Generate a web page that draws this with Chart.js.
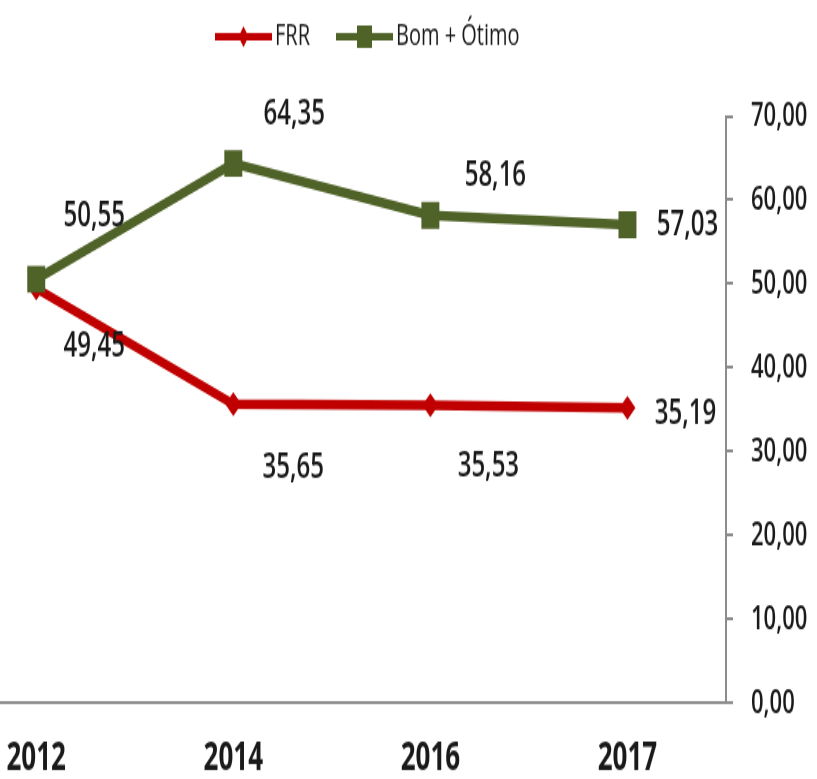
<!DOCTYPE html>
<html>
<head>
<meta charset="utf-8">
<script src="https://cdn.jsdelivr.net/npm/chart.js@4.4.1/dist/chart.umd.min.js"></script>
<style>
  html, body { margin: 0; padding: 0; background: #fff; overflow: hidden; }
  #page { position: relative; width: 817px; height: 779px; overflow: hidden; }
  /* the source picture is stretched vertically, so the chart is drawn flat and scaled */
  #wrap { position: absolute; left: -75px; top: 0; width: 892px; height: 520px;
          transform: scaleY(1.498); transform-origin: 0 0; }
</style>
</head>
<body>
<div id="page"><div id="wrap"><canvas id="myChart"></canvas></div></div>
<script>
const years = ['2012', '2014', '2016', '2017'];
const frr = [49.45, 35.65, 35.53, 35.19];
const bomOtimo = [50.55, 64.35, 58.16, 57.03];
const yTicks = [0, 10, 20, 30, 40, 50, 60, 70];

const fmt = v => Number(v).toFixed(2).replace('.', ',');
const textColor = '#1a1a1a';
const axisColor = '#8c8c8c';

// value labels next to each point (offsets are layout, in px)
const valueLabels = {
  id: 'valueLabels',
  afterDatasetsDraw(chart) {
    const ctx = chart.ctx;
    ctx.save();
    ctx.font = '600 24px "Open Sans"';
    ctx.fillStyle = textColor;
    ctx.textAlign = 'center';
    ctx.textBaseline = 'middle';
    chart.data.datasets.forEach((ds, i) => {
      chart.getDatasetMeta(i).data.forEach((pt, j) => {
        const [dx, dy] = ds.labelShift[j];
        ctx.fillText(fmt(ds.data[j]), pt.x + dx, pt.y + dy);
      });
    });
    ctx.restore();
  }
};

// excel style legend: line with marker in the middle
const lineLegend = {
  id: 'lineLegend',
  afterDraw(chart) {
    const ctx = chart.ctx;
    let x = 290;
    const y = 24.5;
    ctx.save();
    ctx.font = '20px "Open Sans"';
    ctx.textBaseline = 'middle';
    chart.data.datasets.forEach(ds => {
      ctx.strokeStyle = ds.borderColor;
      ctx.fillStyle = ds.borderColor;
      ctx.lineWidth = 5;
      ctx.beginPath();
      ctx.moveTo(x, y);
      ctx.lineTo(x + 57, y);
      ctx.stroke();
      const cx = x + 28.5;
      ctx.beginPath();
      if (ds.pointStyle === 'rectRot') {
        ctx.moveTo(cx - 5, y); ctx.lineTo(cx, y - 7); ctx.lineTo(cx + 5, y); ctx.lineTo(cx, y + 7);
      } else {
        ctx.rect(cx - 7.5, y - 7.5, 15, 15);
      }
      ctx.closePath();
      ctx.fill();
      ctx.fillStyle = textColor;
      ctx.fillText(ds.label, x + 60, y);
      x += 60 + ctx.measureText(ds.label).width + 26;
    });
    ctx.restore();
  }
};

const data = {
  labels: years,
  datasets: [{
    label: 'FRR',
    data: frr,
    borderColor: '#C00000',
    backgroundColor: '#C00000',
    pointBackgroundColor: '#C00000',
    borderWidth: 6.5,
    pointStyle: 'rectRot',
    pointRadius: 8,
    pointBorderWidth: 0,
    order: 1,
    labelShift: [[58, 39], [60, 42], [58, 41], [58, 4]]
  }, {
    label: 'Bom + Ótimo',
    data: bomOtimo,
    borderColor: '#4F6228',
    backgroundColor: '#4F6228',
    pointBackgroundColor: '#4F6228',
    borderWidth: 6.5,
    pointStyle: 'rect',
    pointRadius: 12.7,
    pointBorderWidth: 0,
    order: 0,
    labelShift: [[58, -42], [61, -33], [65, -27], [60, 0]]
  }]
};

const config = {
  type: 'line',
  data,
  options: {
    responsive: true,
    maintainAspectRatio: false,
    animation: false,
    layout: { padding: { top: 77.5, left: 0, right: 0, bottom: 0 } },
    scales: {
      x: {
        offset: true,
        grid: { display: false, drawTicks: false },
        border: { display: true, color: axisColor, width: 2 },
        ticks: {
          color: textColor,
          font: { family: 'Open Sans', size: 26, weight: 'bold' },
          padding: 22,
          maxRotation: 0
        },
        afterFit(axis) { axis.height = 50.7; }
      },
      y: {
        position: 'right',
        min: 0,
        max: 70,
        afterBuildTicks(axis) { axis.ticks = yTicks.map(v => ({ value: v })); },
        grid: { drawOnChartArea: false, drawTicks: true, tickLength: 7, color: axisColor, lineWidth: 2 },
        border: { display: true, color: axisColor, width: 2 },
        ticks: {
          color: textColor,
          font: { family: 'Open Sans', size: 22, weight: '600' },
          padding: 18,
          callback: v => fmt(v)
        },
        afterFit(axis) { axis.width = 91; }
      }
    },
    plugins: {
      legend: { display: false },
      tooltip: { enabled: false }
    }
  },
  plugins: [valueLabels, lineLegend]
};

const myChart = new Chart(document.getElementById('myChart'), config);
</script>
</body>
</html>
